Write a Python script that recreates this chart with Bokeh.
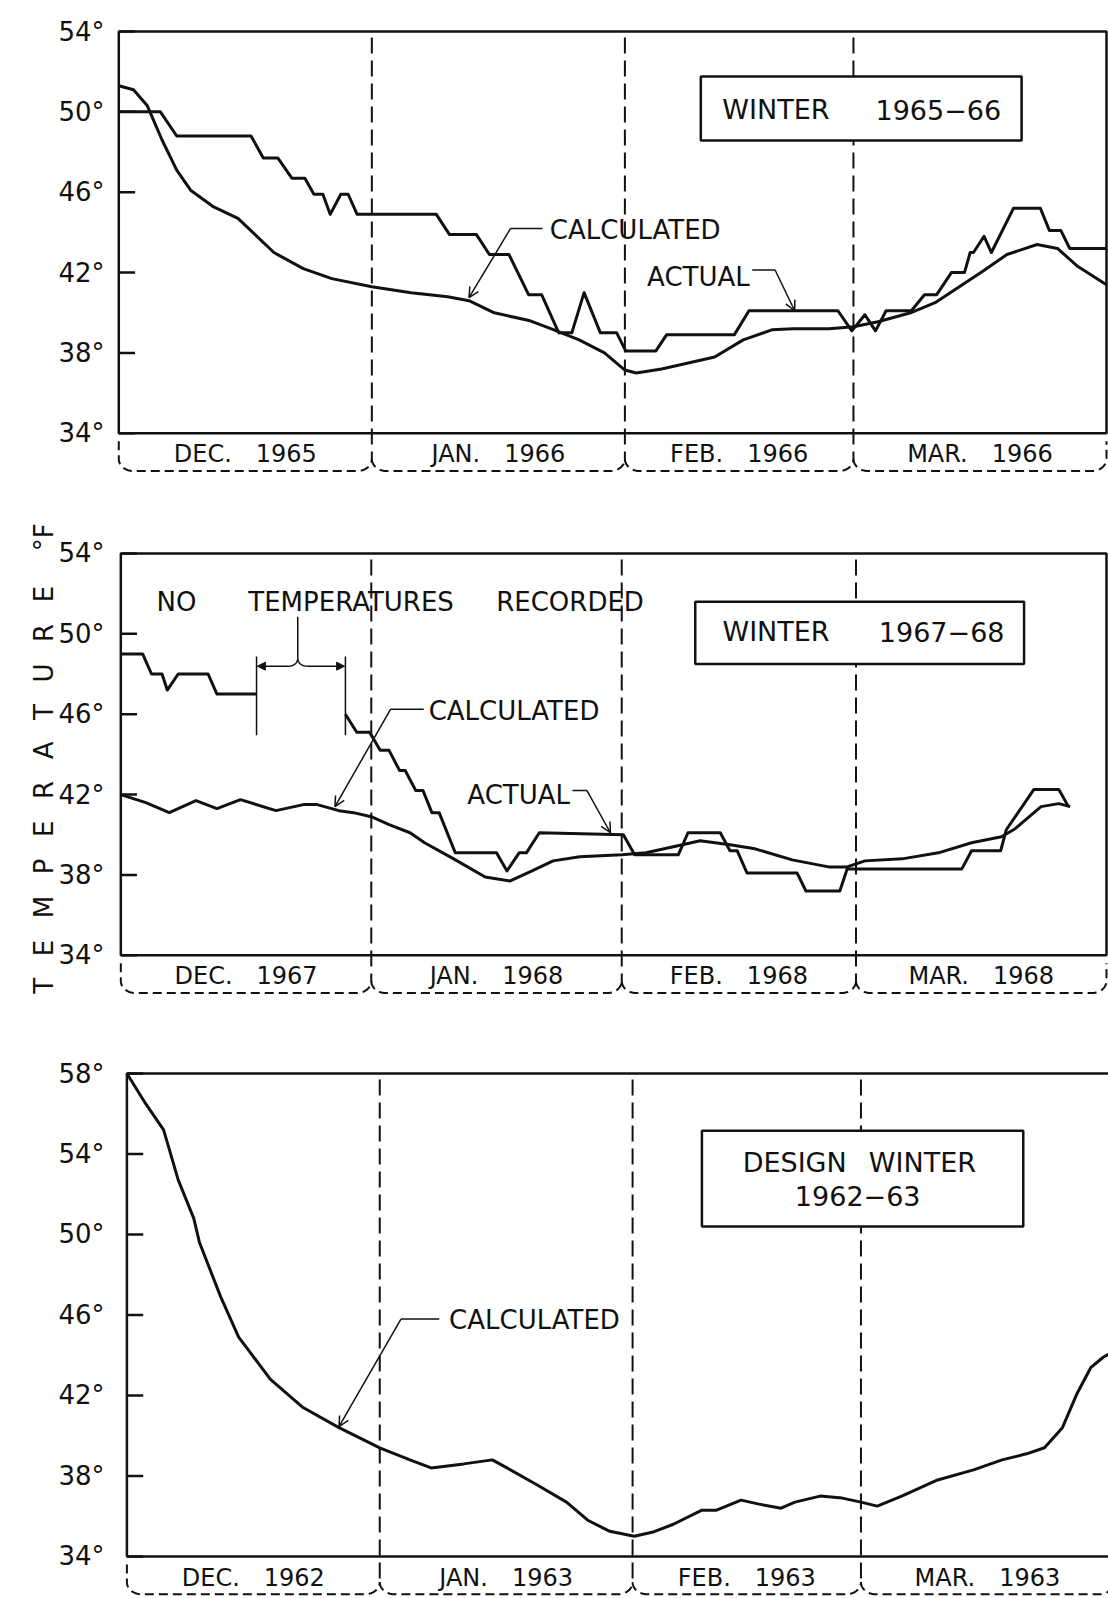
import numpy as np
from bokeh.plotting import figure
from bokeh.layouts import column
from bokeh.models import (Range1d, FixedTicker, Arrow, OpenHead, NormalHead,
                          CustomJSTickFormatter)
from bokeh.core.properties import value
from bokeh.embed import file_html
from bokeh.resources import INLINE

FONT = "DejaVu Sans"

# ---------------- data (x = days since Dec 1, y = temperature in deg F) ----------------
# Winter 1965-66
w1_month_days = [31, 31, 28, 31]
w1_month_names = ["DEC.", "JAN.", "FEB.", "MAR."]
w1_month_years = ["1965", "1966", "1966", "1966"]
w1_ticks = [34, 38, 42, 46, 50, 54]
w1_calc_day = [0, 1.8, 3.5, 5.3, 7.1, 8.8, 11.5, 14.6, 15.9, 19, 22.6, 26.1, 31, 35.8, 40.3, 42.9,
               46, 50.4, 53, 56.4, 59.5, 62, 63.4, 66.5, 73, 76.5, 80, 82.6, 87, 90, 93, 97, 100,
               105.8, 108.8, 112.5, 115, 117.5, 121]
w1_calc_temp = [51.3, 51.1, 50.3, 48.6, 47.1, 46.1, 45.3, 44.7, 44.2, 43.0, 42.2, 41.7, 41.3, 41.0,
                40.8, 40.6, 40.0, 39.6, 39.2, 38.65, 38.0, 37.15, 37.0, 37.2, 37.8, 38.65, 39.15,
                39.2, 39.2, 39.3, 39.55, 40.0, 40.5, 42.05, 42.9, 43.4, 43.2, 42.3, 41.4]
w1_act_day = [0, 5.1, 7.1, 16.2, 17.7, 19.5, 21.2, 22.8, 23.9, 25.0, 25.9, 27.2, 28.1, 29.2, 38.9,
              40.5, 43.8, 45.4, 47.8, 50.2, 51.8, 53.9, 55.5, 57.0, 59.0, 61.0, 62.1, 65.8, 67.1,
              75.4, 77.2, 88.1, 89.8, 91.4, 92.7, 94.0, 97.1, 98.7, 100.2, 102.0, 103.6, 104.3,
              104.7, 106.0, 106.9, 109.6, 112.9, 114.0, 115.4, 116.5, 121]
w1_act_temp = [50.0, 50.0, 48.8, 48.8, 47.7, 47.7, 46.7, 46.7, 45.9, 45.9, 44.9, 45.9, 45.9, 44.9,
               44.9, 43.9, 43.9, 42.9, 42.9, 40.9, 40.9, 39.0, 39.0, 41.0, 39.0, 39.0, 38.1, 38.1,
               38.9, 38.9, 40.1, 40.1, 39.1, 39.9, 39.1, 40.1, 40.1, 40.9, 40.9, 42.0, 42.0, 43.0,
               43.0, 43.8, 43.0, 45.2, 45.2, 44.1, 44.1, 43.2, 43.2]

# Winter 1967-68
w2_month_days = [31, 31, 29, 31]
w2_month_names = ["DEC.", "JAN.", "FEB.", "MAR."]
w2_month_years = ["1967", "1968", "1968", "1968"]
w2_ticks = [34, 38, 42, 46, 50, 54]
w2_calc_day = [0, 3.1, 6, 9.3, 11.9, 14.8, 19.2, 22.6, 24.3, 27, 28.8, 31, 33.2, 35.8, 37.6, 41.2,
               45.1, 48.2, 50.9, 53.5, 56.8, 62, 65, 69.5, 71.7, 75.4, 78.5, 83.1, 87.6, 89.9,
               92.1, 96.7, 101.2, 105.3, 109, 110.7, 113.9, 116.1, 117.5]
w2_calc_temp = [42.0, 41.6, 41.1, 41.7, 41.3, 41.75, 41.2, 41.5, 41.5, 41.2, 41.1, 40.9, 40.5, 40.1,
                39.6, 38.8, 37.9, 37.7, 38.2, 38.7, 38.9, 39.0, 39.1, 39.5, 39.7, 39.5, 39.3,
                38.75, 38.4, 38.4, 38.7, 38.8, 39.1, 39.6, 39.9, 40.3, 41.4, 41.55, 41.4]
# actual record, before and after the period with no temperatures recorded
w2_act1_day = [0, 2.7, 3.8, 5.1, 5.75, 7.1, 10.8, 11.9, 16.8]
w2_act1_temp = [49.0, 49.0, 48.0, 48.0, 47.2, 48.0, 48.0, 47.0, 47.0]
w2_act2_day = [27.8, 29.2, 30.8, 32.1, 33.2, 34.5, 35.2, 36.5, 37.4, 38.5, 39.4, 41.4, 46.5, 47.8,
               49.3, 50.2, 51.8, 62.2, 63.6, 69.0, 70.2, 74.2, 75.4, 76.3, 77.5, 83.7, 84.8, 89.0,
               89.9, 104.1, 105.3, 108.9, 109.6, 113.0, 116.1, 117.3]
w2_act2_temp = [46.0, 45.1, 45.1, 44.2, 44.2, 43.2, 43.2, 42.2, 42.2, 41.1, 41.1, 39.1, 39.1, 38.2,
                39.1, 39.1, 40.1, 40.0, 39.0, 39.0, 40.1, 40.1, 39.2, 39.2, 38.1, 38.1, 37.2, 37.2,
                38.3, 38.3, 39.2, 39.2, 40.25, 42.25, 42.25, 41.4]

# Design winter 1962-63
w3_month_days = [31, 31, 28, 31]
w3_month_names = ["DEC.", "JAN.", "FEB.", "MAR."]
w3_month_years = ["1962", "1963", "1963", "1963"]
w3_ticks = [34, 38, 42, 46, 50, 54, 58]
w3_calc_day = [0, 2.3, 4.5, 6.3, 8.2, 8.9, 11.5, 13.7, 15, 17.6, 21.6, 26, 31, 34.7, 37.3, 41.3,
               44.8, 46.6, 50.1, 53.9, 56.5, 59.2, 62.2, 64.4, 67, 70.5, 72.3, 75.3, 77.5, 80.2,
               81.9, 85, 87.7, 90, 92, 95, 99.4, 103.8, 107.3, 110.3, 112.5, 114.7, 116.5, 118.2,
               119.7, 121]
w3_calc_temp = [58.0, 56.5, 55.2, 52.7, 50.8, 49.6, 46.9, 44.9, 44.2, 42.8, 41.4, 40.4, 39.4, 38.8,
                38.4, 38.6, 38.8, 38.4, 37.6, 36.7, 35.8, 35.25, 35.0, 35.2, 35.6, 36.3, 36.3,
                36.8, 36.6, 36.4, 36.7, 37.0, 36.9, 36.7, 36.5, 37.0, 37.8, 38.3, 38.8, 39.1,
                39.4, 40.4, 42.1, 43.4, 43.9, 44.2]

y_title = ("T\u2002\u2004E\u2002\u2004M\u2002\u2004P\u2002\u2004E\u2002\u2004R\u2002\u2004A"
           "\u2002\u2004T\u2002\u2004U\u2002\u2004R\u2002\u2004E\u2003\u2004\u00b0F")

# ---------------- helpers ----------------
INK = "#111111"


def brace_paths(bounds, y_out, y_cusp, y_bot, rx):
    t = np.linspace(0, np.pi / 2, 12)
    xs, ys = [], []
    n = len(bounds) - 1
    for i in range(n):
        x0, x1 = bounds[i], bounds[i + 1]
        px, py = [], []
        if i == 0:
            px.append(x0)
            py.append(y_out)
        px += list(x0 + rx * (1 - np.cos(t)))
        py += list(y_cusp - (y_cusp - y_bot) * np.sin(t))
        px += list(x1 - rx * (1 - np.cos(t[::-1])))
        py += list(y_cusp - (y_cusp - y_bot) * np.sin(t[::-1]))
        if i == n - 1:
            px.append(x1)
            py.append(y_out)
        xs.append(px)
        ys.append(py)
    return xs, ys


def corner(xc, y_top, y_bot, rx):
    t = np.linspace(0, np.pi / 2, 10)
    return list(xc + rx * (1 - np.cos(t))), list(y_top - (y_top - y_bot) * np.sin(t))


def make_panel(month_days, names, years, ticks, height, y0, y1, x_start, x_end, mbt, mbb,
               brace_cusp, brace_bot, text_y, axis_label=None):
    top = ticks[-1]
    p = figure(width=1108, height=height, x_range=Range1d(x_start, x_end), y_range=Range1d(y0, y1),
               output_backend="svg", toolbar_location=None, x_axis_location=None,
               min_border_left=112, min_border_right=0, min_border_top=mbt, min_border_bottom=mbb)
    p.outline_line_color = None
    p.xgrid.visible = False
    p.ygrid.visible = False
    p.background_fill_color = "white"
    p.border_fill_color = "white"
    ax = p.yaxis[0]
    ax.ticker = FixedTicker(ticks=ticks)
    ax.formatter = CustomJSTickFormatter(code="return tick.toFixed(0) + '\u00b0';")
    ax.axis_line_color = None
    ax.major_tick_line_color = None
    ax.minor_tick_line_color = None
    ax.major_label_text_font = FONT
    ax.major_label_text_font_size = "26px"
    ax.major_label_text_color = INK
    ax.major_label_standoff = 2
    if axis_label:
        ax.axis_label = axis_label
        ax.axis_label_text_font = FONT
        ax.axis_label_text_font_size = "26px"
        ax.axis_label_text_font_style = "normal"
        ax.axis_label_text_color = INK
        ax.axis_label_standoff = -4

    bounds = list(np.cumsum([0] + month_days))
    end = bounds[-1]

    # month division lines
    inner = bounds[1:-1]
    p.segment(x0=inner, x1=inner, y0=[top - 0.3] * len(inner), y1=[brace_cusp] * len(inner),
              line_color=INK, line_width=2, line_dash="16 7")
    # month braces under the frame
    bx, by = brace_paths(bounds, 33.6, brace_cusp, brace_bot, 1.8)
    p.multi_line(xs=bx, ys=by, line_color=INK, line_width=2, line_dash="9 5")
    mids = [(bounds[i] + bounds[i + 1]) / 2 for i in range(len(month_days))]
    labels = [f"{n}\u2003{y}" for n, y in zip(names, years)]
    p.text(x=mids, y=[text_y] * len(mids), text=labels, text_font=value(FONT),
           text_font_size="24px", text_align="center", text_baseline="middle", text_color=INK)

    # frame box + inward ticks
    p.quad(left=[0], right=[end], bottom=[34], top=[top], fill_color=None,
           line_color=INK, line_width=2.5)
    p.segment(x0=[0] * len(ticks), x1=[2] * len(ticks), y0=ticks, y1=ticks,
              line_color=INK, line_width=2.5)
    return p


def add_box(p, l, r, b, t, lines):
    p.quad(left=[l], right=[r], bottom=[b], top=[t], fill_color="white",
           line_color=INK, line_width=2.5)
    for (x, y, s) in lines:
        p.text(x=[x], y=[y], text=[s], text_font=value(FONT), text_font_size="27px",
               text_align="center", text_baseline="middle", text_color=INK)


def add_leader(p, label, tx, ty, align, hx0, hx1, hy, tipx, tipy, bend_left=True):
    p.text(x=[tx], y=[ty], text=[label], text_font=value(FONT), text_font_size="26px",
           text_align=align, text_baseline="middle", text_color=INK)
    p.line(x=[hx0, hx1], y=[hy, hy], line_color=INK, line_width=1.5)
    sx = hx0 if bend_left else hx1
    p.add_layout(Arrow(end=OpenHead(size=10, line_width=1.5, line_color=INK),
                       x_start=sx, y_start=hy, x_end=tipx, y_end=tipy,
                       line_color=INK, line_width=1.5))


# ---------------- panel 1: winter 1965-66 ----------------
p1 = make_panel(w1_month_days, w1_month_names, w1_month_years, w1_ticks, height=478,
                y0=31.95, y1=54.15, x_start=-0.77, x_end=121.245, mbt=28, mbb=4,
                brace_cusp=32.72, brace_bot=32.12, text_y=32.95)
p1.line(w1_calc_day, w1_calc_temp, line_color=INK, line_width=3)
p1.line(w1_act_day, w1_act_temp, line_color=INK, line_width=3, line_join="round")
add_box(p1, 71.3, 110.6, 48.57, 51.76, [(80.5, 50.1, "WINTER"), (100.4, 50.1, "1965\u221266")])
add_leader(p1, "CALCULATED", 52.8, 44.1, "left", 48.0, 51.9, 44.2, 42.9, 40.75, True)
add_leader(p1, "ACTUAL", 77.3, 41.8, "right", 77.6, 80.4, 42.13, 82.8, 40.1, False)

# ---------------- panel 2: winter 1967-68 ----------------
p2 = make_panel(w2_month_days, w2_month_names, w2_month_years, w2_ticks, height=522,
                y0=31.95, y1=55.64, x_start=-1.03, x_end=122.25, mbt=42, mbb=4,
                brace_cusp=32.72, brace_bot=32.12, text_y=32.95, axis_label=y_title)
p2.line(w2_calc_day, w2_calc_temp, line_color=INK, line_width=3)
p2.line(w2_act1_day, w2_act1_temp, line_color=INK, line_width=3, line_join="round")
p2.line(w2_act2_day, w2_act2_temp, line_color=INK, line_width=3, line_join="round")
add_box(p2, 71.1, 111.8, 48.5, 51.6, [(81.1, 50.1, "WINTER"), (101.6, 50.1, "1967\u221268")])
add_leader(p2, "CALCULATED", 38.1, 46.15, "left", 33.4, 37.5, 46.25, 26.5, 41.4, True)
add_leader(p2, "ACTUAL", 55.6, 42.0, "right", 55.9, 57.7, 42.2, 60.6, 40.1, False)
# "no temperatures recorded" bracket
for word, xc in [("NO", 6.9), ("TEMPERATURES", 28.5), ("RECORDED", 55.6)]:
    p2.text(x=[xc], y=[51.6], text=[word], text_font=value(FONT), text_font_size="26px",
            text_align="center", text_baseline="middle", text_color=INK)
gap_start, gap_end, stem_x = 16.8, 27.8, 21.9
p2.segment(x0=[gap_start, gap_end, stem_x], x1=[gap_start, gap_end, stem_x],
           y0=[48.87, 48.87, 50.85], y1=[44.95, 44.95, 48.77], line_color=INK, line_width=1.5)
cxl, cyl = corner(stem_x, 48.77, 48.39, -1.1)
cxr, cyr = corner(stem_x, 48.77, 48.39, 1.1)
p2.multi_line(xs=[cxl, cxr], ys=[cyl, cyr], line_color=INK, line_width=1.5)
for xs, xe in [(stem_x - 1.1, gap_start + 0.1), (stem_x + 1.1, gap_end - 0.1)]:
    p2.add_layout(Arrow(end=NormalHead(size=8, fill_color=INK, line_color=INK, line_width=1),
                        x_start=xs, y_start=48.39, x_end=xe, y_end=48.39,
                        line_color=INK, line_width=1.5))

# ---------------- panel 3: design winter 1962-63 ----------------
p3 = make_panel(w3_month_days, w3_month_names, w3_month_years, w3_ticks, height=598,
                y0=31.96, y1=58.15, x_start=-1.766, x_end=120.35, mbt=70, mbb=1,
                brace_cusp=32.72, brace_bot=32.12, text_y=32.92)
p3.line(w3_calc_day, w3_calc_temp, line_color=INK, line_width=3)
add_box(p3, 70.5, 109.9, 50.4, 55.15, [(89.8, 53.6, "DESIGN\u2002 WINTER"), (89.6, 51.9, "1962\u221263")])
add_leader(p3, "CALCULATED", 39.5, 45.75, "left", 33.6, 38.3, 45.8, 26.0, 40.45, True)

layout = column(p1, p2, p3)
open("out.html", "w").write(file_html(layout, INLINE))
